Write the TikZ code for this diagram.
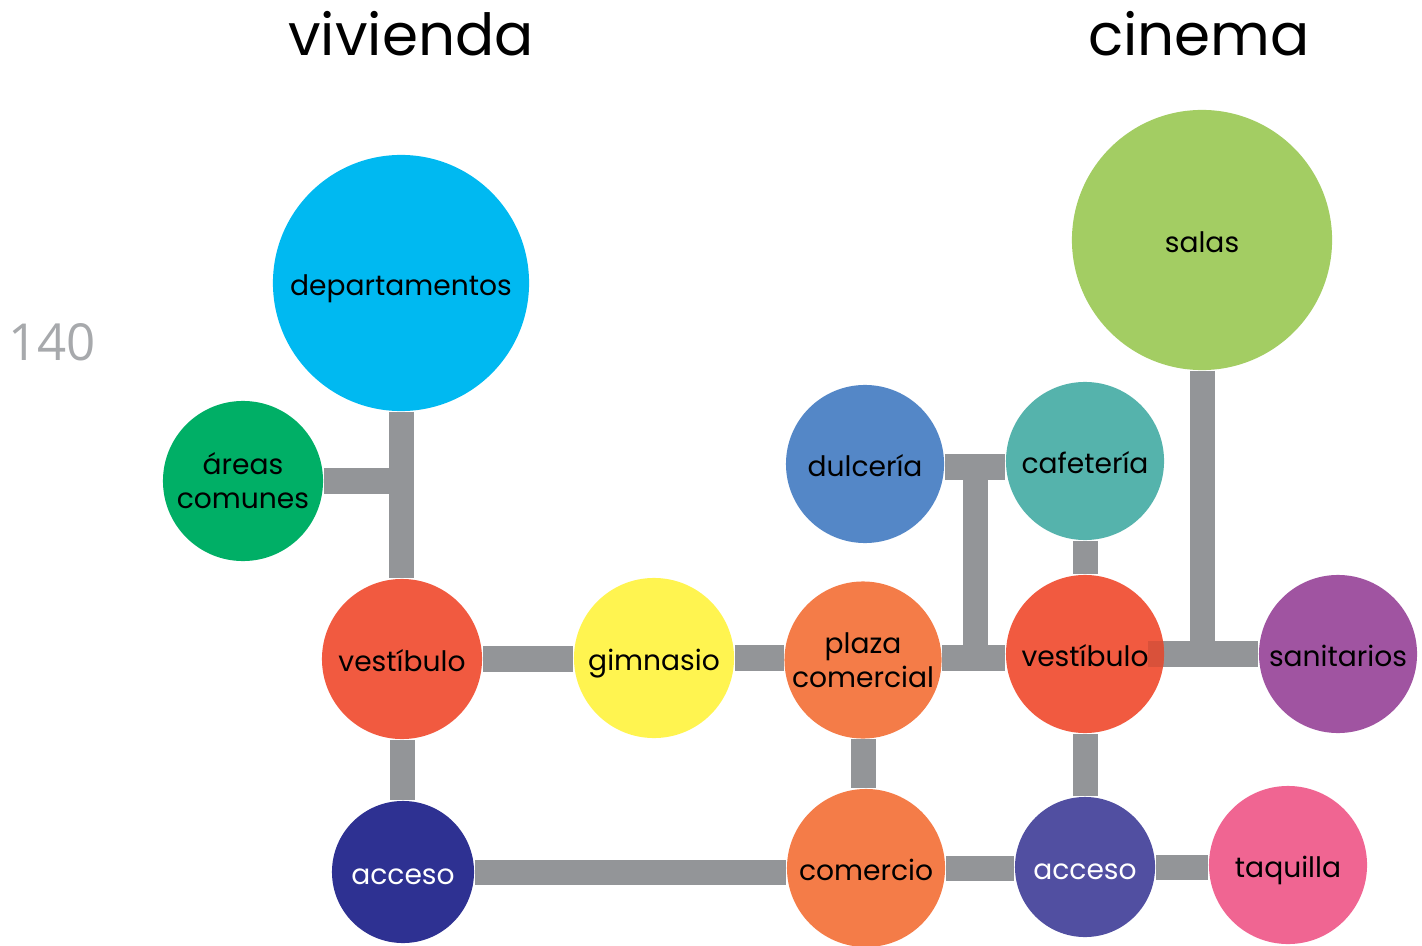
\documentclass[tikz,border=0pt]{standalone}
\usepackage{fontspec}
\setmainfont{Poppins}
\newfontfamily\numfont{Open Sans}
\usetikzlibrary{backgrounds}
\definecolor{linkgray}{HTML}{939598}
\definecolor{numgray}{HTML}{A7A9AC}
\definecolor{cDepto}{HTML}{00B9F1}
\definecolor{cAreas}{HTML}{00AF66}
\definecolor{cVest}{HTML}{F15A40}
\definecolor{cAccV}{HTML}{2E3192}
\definecolor{cGym}{HTML}{FFF450}
\definecolor{cPlaza}{HTML}{F47C48}
\definecolor{cDulce}{HTML}{5487C7}
\definecolor{cCafe}{HTML}{55B3AC}
\definecolor{cSalas}{HTML}{A3CD63}
\definecolor{cSanit}{HTML}{A054A1}
\definecolor{cAccC}{HTML}{514FA1}
\definecolor{cTaq}{HTML}{F06592}
\begin{document}
\begin{tikzpicture}[x=0.01cm, y=-0.01cm,
		room/.style={circle, inner sep=0pt, align=center, text height=7.2pt, text depth=0pt,
			font=\fontsize{8}{9.6}\selectfont},
		room2/.style={circle, inner sep=0pt, align=center, font=\fontsize{8}{9.6}\selectfont},
		link/.style={draw=linkgray, line width=0.25cm},
		title/.style={font=\fontsize{16.5}{16.5}\selectfont}]
		\useasboundingbox (0,0) rectangle (1422,946);
		% ---- titles ----
		\node[title] (tViv) at (411,34) {vivienda};
		\node[title] (tCin) at (1199,34) {cinema};
		\node[font=\numfont\fontsize{14.5}{14.5}\selectfont, text=numgray] (num) at (52,342) {140};
		% ---- vivienda ----
		\node[room, fill=cDepto, minimum size=2.56cm] (depto) at (401,283) {departamentos};
		\node[room2, fill=cAreas, minimum size=1.60cm] (areas) at (243,481) {áreas\\comunes};
		\node[room, fill=cVest, minimum size=1.60cm] (vestV) at (402,659) {vestíbulo};
		\node[room, fill=cAccV, minimum size=1.42cm, text=white] (accV) at (403,872) {acceso};
		\node[room, fill=cGym, minimum size=1.60cm] (gym) at (654,658) {gimnasio};
		% ---- comercio ----
		\node[room2, fill=cPlaza, minimum size=1.57cm] (plaza) at (863,660) {plaza\\comercial};
		\node[room, fill=cPlaza, minimum size=1.58cm] (com) at (866,868) {comercio};
		% ---- cinema ----
		\node[room, fill=cDulce, minimum size=1.58cm] (dulce) at (865,464) {dulcería};
		\node[room, fill=cCafe, minimum size=1.58cm] (cafe) at (1085,461) {cafetería};
		\node[room, fill=cVest, minimum size=1.58cm] (vestC) at (1085,654) {vestíbulo};
		\node[room, fill=cSalas, minimum size=2.60cm] (salas) at (1202,240) {salas};
		\node[room, fill=cSanit, minimum size=1.58cm] (sanit) at (1338,654) {sanitarios};
		\node[room, fill=cAccC, minimum size=1.40cm, text=white] (accC) at (1085,867) {acceso};
		\node[room, fill=cTaq, minimum size=1.58cm] (taq) at (1288,865) {taquilla};
		% ---- junctions ----
		\coordinate (jDulce) at (975,467);
		\coordinate (jPlaza) at (975,658);
		\coordinate (jSalas) at (1202,654);
		\coordinate (jVest) at (1148,654);
		% ---- connectors, behind the rooms ----
		\begin{scope}[on background layer]
			\draw[link] (depto.south) -- (vestV.north -| depto.south);
			\draw[link] (areas.east) -- (areas.east -| depto.south);
			\draw[link] (vestV.south) -- (accV.north -| vestV.south);
			\draw[link] (vestV.east) -- (gym.west |- vestV.east);
			\draw[link] (gym.east) -- (plaza.west |- gym.east);
			\draw[link] (plaza.south) -- (com.north -| plaza.south);
			\draw[link] (accV.east) -- (com.west |- accV.east);
			\draw[link] (com.east) -- (accC.west |- com.east);
			\draw[link] (accC.east) -- (taq.west |- accC.east);
			\draw[link] (accC.north) -- (vestC.south);
			\draw[link] (cafe.south) -- (vestC.north);
			\draw[link] (dulce.east |- jDulce) -- (cafe.west |- jDulce);
			\draw[link] (plaza.east |- jPlaza) -- (vestC.west |- jPlaza);
			\draw[link] (jDulce) -- (jPlaza);
			\draw[link] (salas.south) -- (jSalas);
			\draw[link] (jVest) -- (sanit.west |- jVest);
		\end{scope}
		% ---- bar end showing through the cinema vestibule ----
		\begin{scope}
			\clip (vestC.center) circle (0.79cm);
			\draw[link, draw=cVest!90!black] (jVest) -- (vestC.east |- jVest);
		\end{scope}
	\end{tikzpicture}
\end{document}
